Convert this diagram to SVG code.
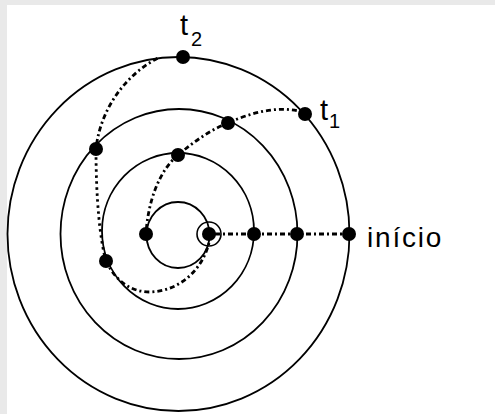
<svg xmlns="http://www.w3.org/2000/svg" width="495" height="414" viewBox="0 0 495 414">
  <style>
    .orbit { fill: none; stroke: #000; stroke-width: 1.8; }
    .path { fill: none; stroke: #000; stroke-width: 2.8; stroke-dasharray: 2 3 5 3; }
    .dots { fill: none; stroke: #000; stroke-width: 2.8; stroke-dasharray: 2.5 3.5; }
    .dot { fill: #000; }
    .lbl { font-family: "Liberation Sans", Arial, sans-serif; fill: #000; }
  </style>
  <rect x="0" y="0" width="495" height="414" fill="#e9e9e9"/>
  <rect x="7" y="5" width="488" height="409" fill="#ffffff"/>

  <g id="orbits">
    <ellipse class="orbit" cx="178.5" cy="234" rx="171" ry="177"/>
    <ellipse class="orbit" cx="179" cy="234" rx="118.5" ry="125"/>
    <ellipse class="orbit" cx="178" cy="231" rx="76" ry="78"/>
    <ellipse class="orbit" cx="178" cy="235" rx="31.5" ry="33"/>
  </g>

  <g id="connectors">
    <path class="path" d="M210,234 L349,234"/>
    <path class="path" d="M146,234 C148,200 160,170 178,155 C195,141 210,130 228,123 C250,113 280,104 305,113"/>
    <path class="path" d="M209,243 C202,270 180,291 150,292 C130,292 115,280 106,261"/>
    <path class="dots" d="M106,261 C100,240 96,200 96,149"/>
    <path class="path" d="M96,149 C100,110 125,75 158,58"/>
  </g>

  <g id="sun">
    <circle cx="209" cy="234" r="12" fill="none" stroke="#000" stroke-width="1.6"/>
    <circle class="dot" cx="209" cy="234" r="7"/>
  </g>
  <g id="inicio"><circle class="dot" cx="349" cy="234" r="7"/></g>
  <g id="p-a"><circle class="dot" cx="297" cy="234" r="7"/></g>
  <g id="p-b"><circle class="dot" cx="254" cy="234" r="7"/></g>
  <g id="p-c"><circle class="dot" cx="146" cy="234" r="7"/></g>
  <g id="p-d"><circle class="dot" cx="178" cy="155" r="7"/></g>
  <g id="p-e"><circle class="dot" cx="228" cy="123" r="7"/></g>
  <g id="t1"><circle class="dot" cx="305" cy="114" r="7"/></g>
  <g id="p-f"><circle class="dot" cx="106" cy="261" r="7"/></g>
  <g id="p-g"><circle class="dot" cx="96" cy="149" r="7"/></g>
  <g id="t2"><circle class="dot" cx="183" cy="57" r="7"/></g>

  <g id="labels">
    <text class="lbl" x="180" y="35" font-size="29">t<tspan x="191" y="46" font-size="20">2</tspan></text>
    <text class="lbl" x="320" y="120" font-size="29">t<tspan x="329" y="128" font-size="20">1</tspan></text>
    <text class="lbl" x="367" y="247" font-size="28" letter-spacing="1.8">início</text>
  </g>
</svg>
